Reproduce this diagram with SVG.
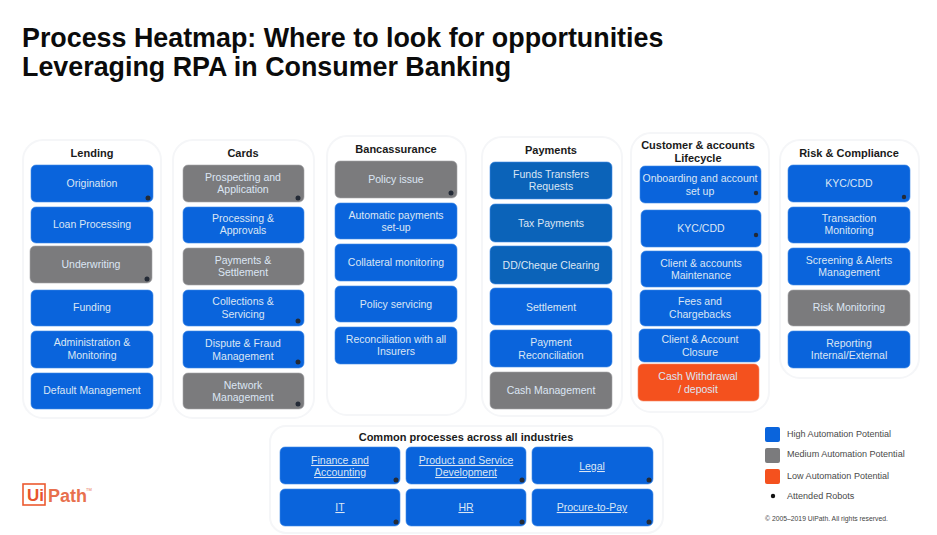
<svg xmlns="http://www.w3.org/2000/svg" width="937" height="535" viewBox="0 0 937 535">
<style>
text{font-family:"Liberation Sans",Arial,sans-serif}
.title{font-size:26.85px;font-weight:700;fill:#0b0b0b}
.head{font-size:11px;font-weight:700;fill:#1a1a1a;text-anchor:middle}
.lbl{font-size:10.5px;fill:#dbe6f4;text-anchor:middle}
.u{text-decoration:underline}
.panel{fill:#fff;stroke:#f5f6f8;stroke-width:2}
.hi{fill:#0a64dc;stroke:#3f8ae6;stroke-width:.6}
.hi2{fill:#0b63b9;stroke:#3f8ae6;stroke-width:.6}
.med{fill:#7b7b7d;stroke:#a5a5a7;stroke-width:.6}
.low{fill:#f4511e;stroke:#f88a66;stroke-width:.6}
.dot{fill:#232a36}
.leg{font-size:9.05px;fill:#4a4a4a}
</style>
<rect width="937" height="535" fill="#fff"/>
<text class="title" x="22" y="47">Process Heatmap: Where to look for opportunities</text>
<text class="title" x="22" y="76">Leveraging RPA in Consumer Banking</text>

<g id="connectors"/>

<g id="lending">
<rect class="panel" x="23" y="140" width="138" height="278" rx="20"/>
<text class="head" x="92" y="157">Lending</text>
<g id="l1"><rect class="hi" x="31" y="165" width="122" height="37" rx="5"/><text class="lbl" x="92" y="187">Origination</text><circle class="dot" cx="148" cy="198" r="2.5"/></g>
<g id="l2"><rect class="hi" x="31" y="207" width="122" height="36" rx="5"/><text class="lbl" x="92" y="228">Loan Processing</text></g>
<g id="l3"><rect class="med" x="30" y="246" width="122" height="37" rx="5"/><text class="lbl" x="91" y="268">Underwriting</text><circle class="dot" cx="147" cy="279" r="2.5"/></g>
<g id="l4"><rect class="hi" x="31" y="290" width="122" height="36" rx="5"/><text class="lbl" x="92" y="311">Funding</text></g>
<g id="l5"><rect class="hi" x="31" y="331" width="122" height="37" rx="5"/><text class="lbl" x="92" y="346">Administration &amp;</text><text class="lbl" x="92" y="359">Monitoring</text></g>
<g id="l6"><rect class="hi" x="31" y="373" width="122" height="36" rx="5"/><text class="lbl" x="92" y="394">Default Management</text></g>
</g>

<g id="cards">
<rect class="panel" x="173" y="140" width="141" height="278" rx="20"/>
<text class="head" x="243" y="157">Cards</text>
<g id="c1"><rect class="med" x="183" y="165" width="121" height="37" rx="5"/><text class="lbl" x="243" y="181">Prospecting and</text><text class="lbl" x="243" y="193">Application</text><circle class="dot" cx="298" cy="198" r="2.5"/></g>
<g id="c2"><rect class="hi" x="183" y="207" width="121" height="36" rx="5"/><text class="lbl" x="243" y="222">Processing &amp;</text><text class="lbl" x="243" y="234">Approvals</text></g>
<g id="c3"><rect class="med" x="183" y="248" width="121" height="37" rx="5"/><text class="lbl" x="243" y="264">Payments &amp;</text><text class="lbl" x="243" y="276">Settlement</text></g>
<g id="c4"><rect class="hi" x="183" y="290" width="121" height="36" rx="5"/><text class="lbl" x="243" y="305">Collections &amp;</text><text class="lbl" x="243" y="318">Servicing</text><circle class="dot" cx="298" cy="321" r="2.5"/></g>
<g id="c5"><rect class="hi" x="183" y="331" width="121" height="37" rx="5"/><text class="lbl" x="243" y="347">Dispute &amp; Fraud</text><text class="lbl" x="243" y="360">Management</text><circle class="dot" cx="298" cy="362" r="2.5"/></g>
<g id="c6"><rect class="med" x="183" y="373" width="121" height="36" rx="5"/><text class="lbl" x="243" y="389">Network</text><text class="lbl" x="243" y="401">Management</text><circle class="dot" cx="298" cy="404" r="2.5"/></g>
</g>

<g id="bancassurance">
<rect class="panel" x="327" y="136" width="139" height="279" rx="20"/>
<text class="head" x="396" y="153">Bancassurance</text>
<g id="b1"><rect class="med" x="335" y="161" width="122" height="37" rx="5"/><text class="lbl" x="396" y="183">Policy issue</text><circle class="dot" cx="451" cy="193" r="2.5"/></g>
<g id="b2"><rect class="hi" x="335" y="203" width="122" height="36" rx="5"/><text class="lbl" x="396" y="219">Automatic payments</text><text class="lbl" x="396" y="231">set-up</text></g>
<g id="b3"><rect class="hi" x="335" y="244" width="122" height="37" rx="5"/><text class="lbl" x="396" y="266">Collateral monitoring</text></g>
<g id="b4"><rect class="hi" x="335" y="286" width="122" height="36" rx="5"/><text class="lbl" x="396" y="308">Policy servicing</text></g>
<g id="b5"><rect class="hi" x="335" y="327" width="122" height="37" rx="5"/><text class="lbl" x="396" y="343">Reconciliation with all</text><text class="lbl" x="396" y="355">Insurers</text></g>
</g>

<g id="payments">
<rect class="panel" x="482" y="137" width="140" height="279" rx="20"/>
<text class="head" x="551" y="154">Payments</text>
<g id="p1"><rect class="hi2" x="490" y="162" width="122" height="37" rx="5"/><text class="lbl" x="551" y="178">Funds Transfers</text><text class="lbl" x="551" y="190">Requests</text></g>
<g id="p2"><rect class="hi2" x="490" y="204" width="122" height="38" rx="5"/><text class="lbl" x="551" y="227">Tax Payments</text></g>
<g id="p3"><rect class="hi2" x="490" y="246" width="122" height="38" rx="5"/><text class="lbl" x="551" y="269">DD/Cheque Clearing</text></g>
<g id="p4"><rect class="hi" x="490" y="288" width="122" height="37" rx="5"/><text class="lbl" x="551" y="311">Settlement</text></g>
<g id="p5"><rect class="hi" x="490" y="330" width="122" height="37" rx="5"/><text class="lbl" x="551" y="346">Payment</text><text class="lbl" x="551" y="359">Reconciliation</text></g>
<g id="p6"><rect class="med" x="490" y="372" width="122" height="37" rx="5"/><text class="lbl" x="551" y="394">Cash Management</text></g>
</g>

<g id="customer">
<rect class="panel" x="631" y="133" width="138" height="279" rx="20"/>
<text class="head" x="698" y="149">Customer &amp; accounts</text>
<text class="head" x="698" y="162">Lifecycle</text>
<g id="a1"><rect class="hi" x="640" y="166" width="121" height="37" rx="5"/><text class="lbl" x="700" y="182">Onboarding and account</text><text class="lbl" x="700" y="195">set up</text><circle class="dot" cx="756" cy="193" r="2.2"/></g>
<g id="a2"><rect class="hi" x="641" y="210" width="120" height="37" rx="5"/><text class="lbl" x="701" y="232">KYC/CDD</text><circle class="dot" cx="756" cy="235" r="2.2"/></g>
<g id="a3"><rect class="hi" x="641" y="251" width="121" height="36" rx="5"/><text class="lbl" x="701" y="267">Client &amp; accounts</text><text class="lbl" x="701" y="279">Maintenance</text></g>
<g id="a4"><rect class="hi" x="640" y="290" width="121" height="36" rx="5"/><text class="lbl" x="700" y="305">Fees and</text><text class="lbl" x="700" y="318">Chargebacks</text></g>
<g id="a5"><rect class="hi" x="639" y="329" width="121" height="33" rx="5"/><text class="lbl" x="700" y="343">Client &amp; Account</text><text class="lbl" x="700" y="356">Closure</text></g>
<g id="a6"><rect class="low" x="638" y="364" width="121" height="37" rx="5"/><text class="lbl" x="698" y="380">Cash Withdrawal</text><text class="lbl" x="698" y="393">/ deposit</text></g>
</g>

<g id="risk">
<rect class="panel" x="780" y="140" width="139" height="238" rx="20"/>
<text class="head" x="849" y="157">Risk &amp; Compliance</text>
<g id="r1"><rect class="hi" x="788" y="165" width="122" height="37" rx="5"/><text class="lbl" x="849" y="187">KYC/CDD</text><circle class="dot" cx="904" cy="197" r="2.2"/></g>
<g id="r2"><rect class="hi" x="788" y="207" width="122" height="36" rx="5"/><text class="lbl" x="849" y="222">Transaction</text><text class="lbl" x="849" y="234">Monitoring</text></g>
<g id="r3"><rect class="hi" x="788" y="248" width="122" height="37" rx="5"/><text class="lbl" x="849" y="264">Screening &amp; Alerts</text><text class="lbl" x="849" y="276">Management</text></g>
<g id="r4"><rect class="med" x="788" y="290" width="122" height="36" rx="5"/><text class="lbl" x="849" y="311">Risk Monitoring</text></g>
<g id="r5"><rect class="hi" x="788" y="331" width="122" height="37" rx="5"/><text class="lbl" x="849" y="347">Reporting</text><text class="lbl" x="849" y="359">Internal/External</text></g>
</g>

<g id="common">
<rect class="panel" x="270" y="426" width="393" height="107" rx="16"/>
<text class="head" x="466" y="441">Common processes across all industries</text>
<g id="k1"><rect class="hi" x="280" y="447" width="120" height="37" rx="5"/><text class="lbl u" x="340" y="464">Finance and</text><text class="lbl u" x="340" y="476">Accounting</text><circle class="dot" cx="396" cy="480" r="2.5"/></g>
<g id="k2"><rect class="hi" x="406" y="447" width="120" height="37" rx="5"/><text class="lbl u" x="466" y="464">Product and Service</text><text class="lbl u" x="466" y="476">Development</text><circle class="dot" cx="522" cy="480" r="2.5"/></g>
<g id="k3"><rect class="hi" x="532" y="447" width="121" height="37" rx="5"/><text class="lbl u" x="592" y="470">Legal</text><circle class="dot" cx="649" cy="480" r="2.5"/></g>
<g id="k4"><rect class="hi" x="280" y="489" width="120" height="37" rx="5"/><text class="lbl u" x="340" y="511">IT</text><circle class="dot" cx="396" cy="522" r="2.5"/></g>
<g id="k5"><rect class="hi" x="406" y="489" width="120" height="37" rx="5"/><text class="lbl u" x="466" y="511">HR</text><circle class="dot" cx="522" cy="522" r="2.5"/></g>
<g id="k6"><rect class="hi" x="532" y="489" width="121" height="37" rx="5"/><text class="lbl u" x="592" y="511">Procure-to-Pay</text><circle class="dot" cx="649" cy="522" r="2.5"/></g>
</g>

<g id="legend">
<rect x="765" y="427" width="15" height="15" rx="2" fill="#0a64dc"/><text class="leg" x="787" y="437">High Automation Potential</text>
<rect x="765" y="448" width="15" height="15" rx="2" fill="#7b7b7d"/><text class="leg" x="787" y="457">Medium Automation Potential</text>
<rect x="765" y="469" width="15" height="15" rx="2" fill="#f4511e"/><text class="leg" x="787" y="479">Low Automation Potential</text>
<circle cx="773" cy="496" r="2.2" fill="#111"/><text class="leg" x="787" y="499">Attended Robots</text>
<text x="765" y="521" font-size="6.8" fill="#444">© 2005–2019 UiPath. All rights reserved.</text>
</g>

<g id="logo">
<rect x="23" y="484" width="22" height="21" fill="none" stroke="#ec5a30" stroke-width="1.6"/>
<text x="27" y="501" font-size="17" font-weight="700" fill="#e8552c">Ui</text>
<text x="48" y="502" font-size="18" font-weight="700" fill="#e8704e">Path</text>
<text x="86" y="491" font-size="4" fill="#e8704e">TM</text>
</g>
</svg>
